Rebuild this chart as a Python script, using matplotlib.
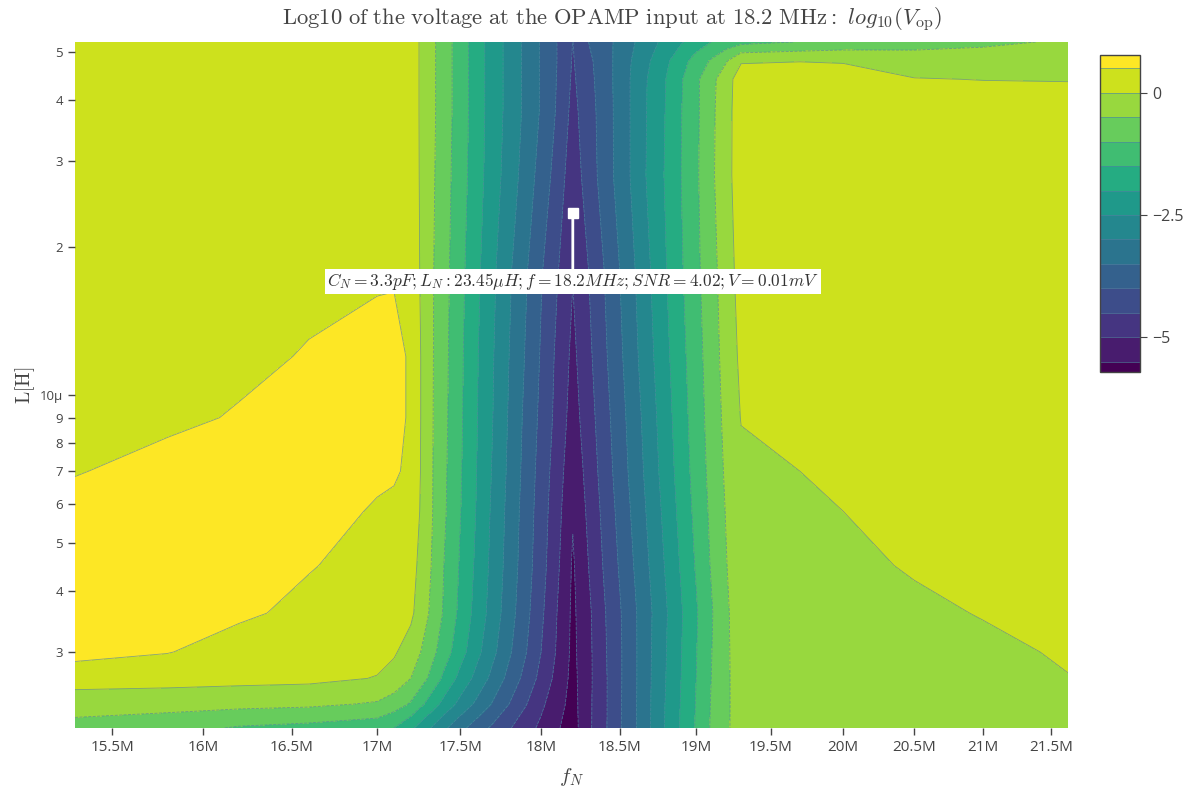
import numpy as np
import matplotlib
matplotlib.use("Agg")
import matplotlib.pyplot as plt

# grid: frequency (MHz), inductance (uH), log10(V_op)
F_MHZ = [15.3, 15.8, 16.2, 16.6, 17.0, 17.1, 17.2, 17.3, 17.4, 17.5, 17.6,
         17.7, 17.8, 17.9, 18.0, 18.1, 18.2, 18.3, 18.4, 18.5, 18.6, 18.7,
         18.8, 18.9, 19.0, 19.1, 19.2, 19.3, 19.7, 20.0, 20.5, 21.0, 21.63]
L_UH = [2.1, 2.35, 2.65, 3.0, 3.6, 4.5, 5.8, 7.0, 9.0, 12, 18, 28, 38, 44, 48, 52.4]

Z = [
    [-0.65, -0.8, -1.05, -1.15, -1.3, -1.5, -1.9, -2.4,
     -2.9, -3.35, -3.75, -4.1, -4.45, -4.8, -5.1, -5.45, -5.71,
     -5.1, -4.6, -4.05, -3.55, -3.0, -2.45, -1.95, -1.45, -0.95, -0.55, -0.35,
     -0.32, -0.3, -0.27, -0.24, -0.18],
    [-0.3, -0.32, -0.35, -0.4, -0.55, -0.75, -1.05, -1.6,
     -2.15, -2.65, -3.1, -3.55, -4.0, -4.45, -4.9, -5.3, -5.68,
     -5.11, -4.6, -4.06, -3.55, -3.01, -2.47, -1.97, -1.47, -0.97, -0.56, -0.33,
     -0.3, -0.28, -0.24, -0.2, -0.1],
    [0.25, 0.2, 0.15, 0.12, -0.02, -0.15, -0.5, -1.0,
     -1.6, -2.15, -2.65, -3.15, -3.65, -4.15, -4.65, -5.15, -5.65,
     -5.12, -4.6, -4.07, -3.56, -3.02, -2.5, -2.0, -1.5, -1.0, -0.57, -0.3,
     -0.28, -0.25, -0.2, -0.14, -0.01],
    [0.65, 0.52, 0.3, 0.28, 0.15, 0.05, -0.2, -0.7,
     -1.25, -1.8, -2.35, -2.88, -3.42, -3.95, -4.5, -5.05, -5.62,
     -5.12, -4.58, -4.07, -3.56, -3.03, -2.52, -2.02, -1.52, -1.02, -0.58, -0.25,
     -0.25, -0.22, -0.15, -0.08, 0.04],
    [0.7, 0.7, 0.58, 0.38, 0.25, 0.2, 0.1, -0.45,
     -1.05, -1.62, -2.18, -2.72, -3.28, -3.83, -4.4, -5.0, -5.6,
     -5.1, -4.55, -4.05, -3.55, -3.05, -2.55, -2.05, -1.55, -1.05, -0.58, -0.2,
     -0.22, -0.18, -0.08, 0.02, 0.1],
    [0.74, 0.75, 0.72, 0.53, 0.32, 0.3, 0.2, -0.35,
     -1.0, -1.55, -2.1, -2.65, -3.2, -3.75, -4.3, -4.9, -5.56,
     -5.0, -4.45, -3.95, -3.45, -2.95, -2.45, -1.95, -1.45, -0.96, -0.52, -0.18,
     -0.18, -0.1, 0.04, 0.12, 0.18],
    [0.62, 0.72, 0.76, 0.7, 0.45, 0.42, 0.35, -0.3,
     -0.92, -1.48, -2.03, -2.6, -3.15, -3.7, -4.25, -4.82, -5.45,
     -4.9, -4.36, -3.85, -3.35, -2.85, -2.35, -1.85, -1.36, -0.9, -0.47, -0.15,
     -0.1, 0.0, 0.15, 0.22, 0.27],
    [0.48, 0.62, 0.72, 0.74, 0.6, 0.55, 0.42, -0.3,
     -0.9, -1.45, -2.0, -2.55, -3.1, -3.65, -4.2, -4.75, -5.35,
     -4.82, -4.28, -3.77, -3.27, -2.77, -2.27, -1.78, -1.3, -0.85, -0.42, -0.1,
     0.0, 0.15, 0.25, 0.3, 0.32],
    [0.4, 0.42, 0.53, 0.7, 0.68, 0.62, 0.45, -0.3,
     -0.87, -1.42, -1.97, -2.5, -3.05, -3.6, -4.12, -4.65, -5.22,
     -4.72, -4.2, -3.7, -3.2, -2.7, -2.2, -1.72, -1.25, -0.8, -0.36, 0.02,
     0.15, 0.3, 0.32, 0.34, 0.34],
    [0.35, 0.36, 0.4, 0.53, 0.65, 0.62, 0.45, -0.3,
     -0.85, -1.4, -1.95, -2.47, -3.0, -3.52, -4.05, -4.6, -5.12,
     -4.62, -4.1, -3.6, -3.1, -2.6, -2.12, -1.65, -1.2, -0.75, -0.3, 0.1,
     0.3, 0.35, 0.35, 0.35, 0.34],
    [0.32, 0.32, 0.33, 0.35, 0.42, 0.45, 0.35, -0.3,
     -0.82, -1.35, -1.88, -2.4, -2.92, -3.42, -3.95, -4.45, -4.97,
     -4.5, -4.0, -3.5, -3.0, -2.5, -2.02, -1.56, -1.12, -0.68, -0.24, 0.2,
     0.33, 0.35, 0.35, 0.34, 0.33],
    [0.3, 0.3, 0.3, 0.3, 0.32, 0.32, 0.28, -0.27,
     -0.78, -1.28, -1.78, -2.28, -2.72, -3.2, -3.7, -4.2, -4.8,
     -4.25, -3.8, -3.3, -2.85, -2.35, -1.95, -1.5, -1.08, -0.6, -0.15, 0.25,
     0.33, 0.35, 0.33, 0.32, 0.3],
    [0.3, 0.3, 0.3, 0.3, 0.3, 0.3, 0.25, -0.25,
     -0.75, -1.25, -1.75, -2.25, -2.65, -3.1, -3.55, -4.05, -4.65,
     -4.2, -3.78, -3.3, -2.85, -2.38, -1.98, -1.52, -1.1, -0.62, -0.16, 0.25,
     0.32, 0.33, 0.28, 0.25, 0.22],
    [0.3, 0.3, 0.3, 0.3, 0.3, 0.3, 0.25, -0.25,
     -0.75, -1.25, -1.75, -2.25, -2.65, -3.1, -3.55, -4.02, -4.58,
     -4.15, -3.75, -3.3, -2.85, -2.4, -2.0, -1.55, -1.1, -0.65, -0.2, 0.25,
     0.3, 0.28, 0.02, -0.01, -0.02],
    [0.3, 0.3, 0.3, 0.3, 0.3, 0.3, 0.25, -0.25,
     -0.75, -1.25, -1.75, -2.25, -2.65, -3.1, -3.55, -4.0, -4.54,
     -4.1, -3.75, -3.3, -2.9, -2.5, -2.1, -1.7, -1.3, -0.95, -0.55, -0.05,
     -0.02, -0.05, -0.25, -0.3, -0.35],
    [0.3, 0.3, 0.3, 0.3, 0.3, 0.3, 0.25, -0.25,
     -0.75, -1.25, -1.75, -2.25, -2.65, -3.1, -3.55, -4.0, -4.51,
     -4.0, -3.7, -3.35, -3.0, -2.65, -2.35, -2.05, -1.75, -1.5, -1.3, -1.15,
     -0.98, -0.85, -0.7, -0.58, -0.45],
]

X_TICKS_MHZ = [15.5, 16, 16.5, 17, 17.5, 18, 18.5, 19, 19.5, 20, 20.5, 21, 21.5]
X_TICK_LABELS = ["15.5M", "16M", "16.5M", "17M", "17.5M", "18M", "18.5M",
                 "19M", "19.5M", "20M", "20.5M", "21M", "21.5M"]
Y_TICKS_UH = [3, 4, 5, 6, 7, 8, 9, 10, 20, 30, 40, 50]
Y_TICK_LABELS = ["3", "4", "5", "6", "7", "8", "9", "10\u03bc", "2", "3", "4", "5"]

MARK_F_MHZ = 18.2
MARK_L_UH = 23.45
MARK_TEXT = r"$C_N=3.3pF; L_N: 23.45\mu H; f=18.2MHz; SNR=4.02; V=0.01mV$"

plt.rcParams["mathtext.fontset"] = "cm"
plt.rcParams["font.family"] = ["Open Sans", "DejaVu Sans"]

f = np.array(F_MHZ) * 1e6
L = np.array(L_UH) * 1e-6
z = np.array(Z)
levels = np.arange(-6.0, 1.01, 0.5)

fig = plt.figure(figsize=(11.92, 7.94), dpi=100)
ax = fig.add_axes([75 / 1192, 66 / 794, 993 / 1192, 686 / 794])

cs = ax.contourf(f, L, z, levels=levels, cmap="viridis", vmin=-5.75, vmax=0.75)
cl = ax.contour(f, L, z, levels=levels, colors="#4f86a0", linewidths=0.6, alpha=0.7)
ax.set_xscale("log")
ax.set_yscale("log")
ax.set_xlim(15.3e6, 21.63e6)
ax.set_ylim(2.1e-6, 52.4e-6)

ax.set_xticks(np.array(X_TICKS_MHZ) * 1e6, X_TICK_LABELS)
ax.set_yticks(np.array(Y_TICKS_UH) * 1e-6, Y_TICK_LABELS)
ax.minorticks_off()
ax.tick_params(colors="#444444", length=5, width=1, direction="out")
ax.tick_params(axis="x", labelsize=11)
ax.tick_params(axis="y", labelsize=9.5)
for s in ax.spines.values():
    s.set_visible(False)

ax.set_xlabel(r"$f_N$", fontsize=15, labelpad=8, color="#444444")
ax.set_ylabel(r"$\mathrm{L[H]}$", fontsize=14, labelpad=2, color="#444444")

ax.annotate(MARK_TEXT, xy=(MARK_F_MHZ * 1e6, MARK_L_UH * 1e-6), xytext=(0, -49),
            textcoords="offset points", ha="center", va="center", fontsize=12.5,
            color="#333333",
            bbox=dict(boxstyle="square,pad=0.12", fc="white", ec="none"),
            arrowprops=dict(arrowstyle="-", color="white", lw=2, shrinkA=0, shrinkB=0))
ax.plot([MARK_F_MHZ * 1e6], [MARK_L_UH * 1e-6], marker="s", color="white",
        markersize=7, zorder=5)

fig.text(612 / 1192, 1 - 20 / 794,
         r"$\mathrm{Log10\ of\ the\ voltage\ at\ the\ OPAMP\ input\ at\ 18.2\ MHz:}\ log_{10}(V_{\mathrm{op}})$",
         ha="center", va="center", fontsize=16.3, color="#444444")

cax = fig.add_axes([1100 / 1192, (794 - 372) / 794, 40 / 1192, 317 / 794])
cbar = fig.colorbar(cs, cax=cax)
cbar.add_lines(cl)
cax.set_ylim(-5.71, 0.77)
cbar.set_ticks([-5, -2.5, 0], labels=["\u22125", "\u22122.5", "0"])
cax.tick_params(colors="#444444", labelsize=11.5, length=5)
cbar.outline.set_edgecolor("#444444")
cbar.outline.set_linewidth(1)

fig.savefig("out.png", dpi=100)
